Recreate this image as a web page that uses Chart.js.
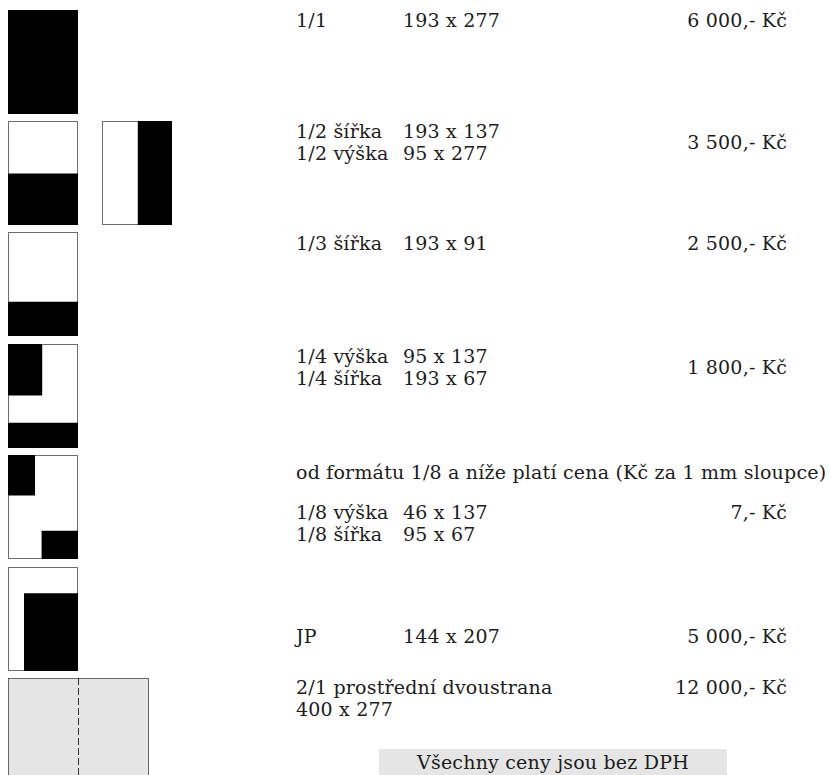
<!DOCTYPE html>
<html lang="cs">
<head>
<meta charset="utf-8">
<title>Ceník inzerce</title>
<script src="https://cdn.jsdelivr.net/npm/chart.js@4/dist/chart.umd.min.js"></script>
<style>
  html, body {
    margin: 0;
    padding: 0;
    background: #fff;
    overflow: hidden;
  }
  #page {
    position: relative;
    width: 829px;
    height: 775px;
    overflow: hidden;
    font-family: "DejaVu Serif", serif;
    font-size: 19px;
    letter-spacing: 0.2px;
    color: #1c1c1c;
  }
  .t {
    position: absolute;
    line-height: 22px;
    white-space: nowrap;
  }
  .r { text-align: right; }
  .thumb { position: absolute; }
  #note {
    position: absolute;
    left: 379px;
    top: 749px;
    width: 348px;
    height: 40px;
    background: #e5e5e5;
  }
</style>
</head>
<body>
<div id="page"><div id="note"></div></div>
<script>
// format names, sizes in mm and prices
const formats = ["1/1", "1/2 šířka", "1/2 výška", "1/3 šířka", "1/4 výška", "1/4 šířka",
  "1/8 výška", "1/8 šířka", "JP", "2/1 prostřední dvoustrana"];
const sizes = ["193 x 277", "193 x 137", "95 x 277", "193 x 91", "95 x 137", "193 x 67",
  "46 x 137", "95 x 67", "144 x 207", "400 x 277"];
const prices = ["6 000,- Kč", "3 500,- Kč", "2 500,- Kč", "1 800,- Kč", "7,- Kč", "5 000,- Kč", "12 000,- Kč"];
const smallNote = "od formátu 1/8 a níže platí cena (Kč za 1 mm sloupce)";
const vatNote = "Všechny ceny jsou bez DPH";

// page in mm, blocks are [x0, y0, x1, y1] measured from the top left corner
const pageW = 193;
const pageH = 277;
const spreadW = 400;
const blocks11 = [[0, 0, 193, 277]];
const blocks12w = [[0, 140, 193, 277]];
const blocks12h = [[98, 0, 193, 277]];
const blocks13 = [[0, 186, 193, 277]];
const blocks14 = [[0, 0, 95, 137], [0, 210, 193, 277]];
const blocks18 = [[0, 0, 75, 108], [92, 202, 193, 277]];
const blocksJP = [[44, 70, 193, 277]];
const blocksSpread = [[0, 0, 400, 277]];
const foldX = 200;

Chart.defaults.animation = false;
Chart.defaults.events = [];

const page = document.getElementById("page");

function text(str, x, cy, right) {
  const el = document.createElement("div");
  el.className = right ? "t r" : "t";
  el.textContent = str;
  el.style.top = (cy - 11) + "px";
  if (right) {
    el.style.right = (829 - x) + "px";
  } else {
    el.style.left = x + "px";
  }
  page.appendChild(el);
  return el;
}

function thumb(left, top, width, xMax, blocks, fill, frameColor, frameOnTop, fold) {
  const box = document.createElement("div");
  box.className = "thumb";
  box.style.left = left + "px";
  box.style.top = top + "px";
  const canvas = document.createElement("canvas");
  canvas.width = width;
  canvas.height = 104;
  box.appendChild(canvas);
  page.appendChild(box);

  const datasets = [{
    // page outline
    data: [{x: 0, y: 0}, {x: xMax, y: 0}, {x: xMax, y: pageH}, {x: 0, y: pageH}, {x: 0, y: 0}],
    borderColor: frameColor,
    borderWidth: 2,
    fill: false,
    order: frameOnTop ? 1 : 3
  }];
  blocks.forEach((b) => {
    datasets.push({
      data: [{x: b[0], y: b[1]}, {x: b[2], y: b[1]}],
      borderWidth: 0,
      backgroundColor: fill,
      fill: {value: b[3]},
      order: 2
    });
  });
  if (fold !== undefined) {
    datasets.push({
      data: [{x: fold, y: 0}, {x: fold, y: pageH}],
      borderColor: "#333",
      borderWidth: 1,
      borderDash: [7, 3],
      fill: false,
      order: 0
    });
  }

  new Chart(canvas.getContext("2d"), {
    type: "line",
    data: {datasets: datasets},
    options: {
      responsive: false,
      layout: {padding: 0},
      elements: {point: {radius: 0}, line: {tension: 0}},
      scales: {
        x: {type: "linear", min: 0, max: xMax, display: false},
        y: {type: "linear", min: 0, max: pageH, reverse: true, display: false}
      },
      plugins: {legend: {display: false}, tooltip: {enabled: false}}
    }
  });
}

// thumbnails
thumb(8, 10, 70, pageW, blocks11, "#000", "#6e6e6e");
thumb(8, 121, 70, pageW, blocks12w, "#000", "#6e6e6e");
thumb(102, 121, 70, pageW, blocks12h, "#000", "#6e6e6e");
thumb(8, 232, 70, pageW, blocks13, "#000", "#6e6e6e");
thumb(8, 344, 70, pageW, blocks14, "#000", "#6e6e6e");
thumb(8, 455, 70, pageW, blocks18, "#000", "#6e6e6e");
thumb(8, 567, 70, pageW, blocksJP, "#000", "#6e6e6e");
thumb(8, 678, 141, spreadW, blocksSpread, "#e5e5e5", "#666", true, foldX);

// text columns
const col1 = 296;
const col2 = 403;
const colPrice = 787;

text(formats[0], col1, 20); text(sizes[0], col2, 20); text(prices[0], colPrice, 20, true);

text(formats[1], col1, 131); text(sizes[1], col2, 131);
text(formats[2], col1, 153); text(sizes[2], col2, 153);
text(prices[1], colPrice, 142, true);

text(formats[3], col1, 243); text(sizes[3], col2, 243); text(prices[2], colPrice, 243, true);

text(formats[4], col1, 356); text(sizes[4], col2, 356);
text(formats[5], col1, 378); text(sizes[5], col2, 378);
text(prices[3], colPrice, 367, true);

text(smallNote, col1, 472);
text(formats[6], col1, 512); text(sizes[6], col2, 512); text(prices[4], colPrice, 512, true);
text(formats[7], col1, 534); text(sizes[7], col2, 534);

text(formats[8], col1, 636); text(sizes[8], col2, 636); text(prices[5], colPrice, 636, true);

text(formats[9], col1, 687); text(prices[6], colPrice, 687, true);
text(sizes[9], col1, 709);

const note = text(vatNote, 379, 762);
note.style.width = "348px";
note.style.textAlign = "center";
</script>
</body>
</html>
